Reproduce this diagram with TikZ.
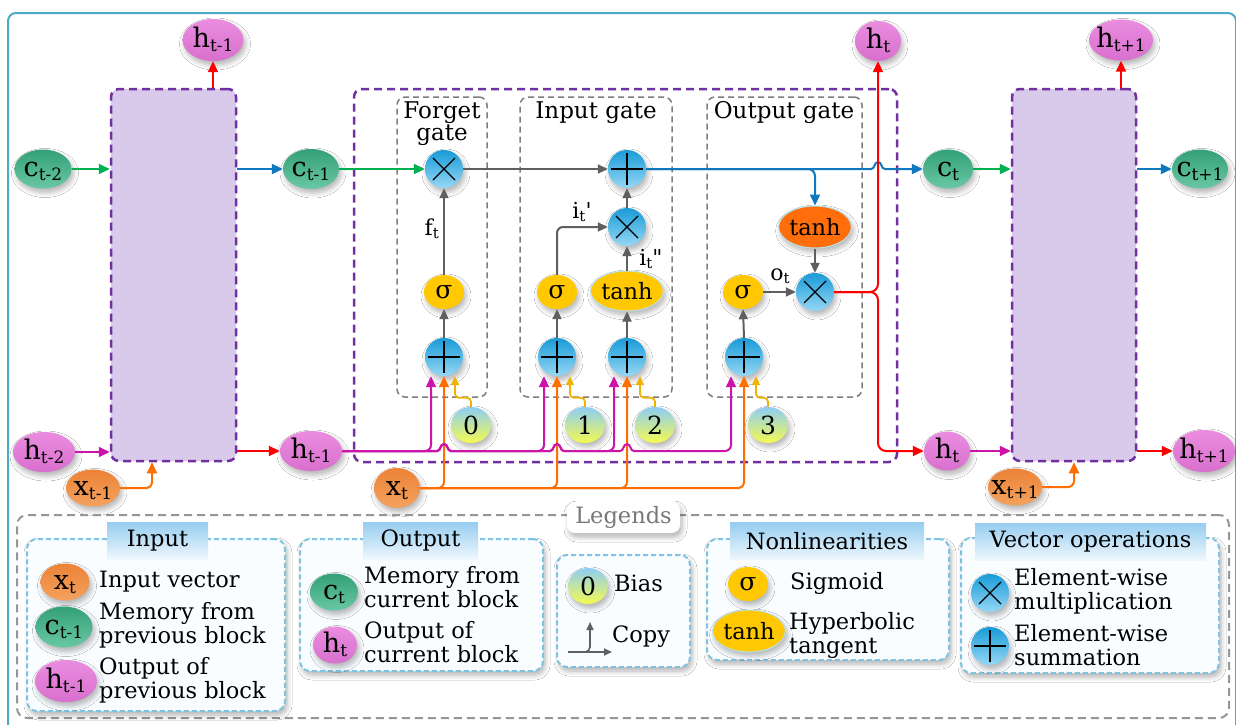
\documentclass[tikz,border=0pt]{standalone}
\usepackage{fontspec}
\setmainfont{DejaVu Serif}
\usetikzlibrary{arrows.meta,shapes.geometric,shadows.blur}

% palette
\definecolor{hTop}{RGB}{234,140,224}
\definecolor{hBot}{RGB}{216,112,206}
\definecolor{cTop}{RGB}{52,160,120}
\definecolor{cBot}{RGB}{105,200,165}
\definecolor{xTop}{RGB}{236,130,55}
\definecolor{xBot}{RGB}{244,162,95}
\definecolor{opTop}{RGB}{25,155,215}
\definecolor{opBot}{RGB}{150,215,245}
\definecolor{sigY}{RGB}{255,200,0}
\definecolor{tanhO}{RGB}{255,110,10}
\definecolor{biasT}{RGB}{140,205,245}
\definecolor{biasB}{RGB}{245,250,80}
\definecolor{purp}{RGB}{112,48,160}
\definecolor{lav}{RGB}{217,202,236}
\definecolor{gboxC}{RGB}{125,125,125}
\definecolor{lnGreen}{RGB}{0,176,80}
\definecolor{lnBlue}{RGB}{16,120,190}
\definecolor{lnRed}{RGB}{255,0,0}
\definecolor{lnMag}{RGB}{204,20,170}
\definecolor{lnOr}{RGB}{255,110,0}
\definecolor{lnGold}{RGB}{240,180,0}
\definecolor{lnGray}{RGB}{95,95,95}
\definecolor{frameC}{RGB}{75,170,198}
\definecolor{legBorder}{RGB}{125,195,225}
\definecolor{legFill}{RGB}{250,253,255}
\definecolor{titT}{RGB}{150,205,240}
\definecolor{titB}{RGB}{238,247,253}
\definecolor{legGray}{RGB}{150,150,150}
\definecolor{legText}{RGB}{120,120,120}
\definecolor{ringC}{RGB}{185,225,235}

% labels: letter with an upright subscript
\newcommand{\lab}[2]{{\fontsize{27}{28}\selectfont #1}\raisebox{-4pt}{\fontsize{17}{18}\selectfont #2}}
\newcommand{\slab}[2]{{\fontsize{22}{24}\selectfont #1}\raisebox{-3pt}{\fontsize{15}{16}\selectfont #2}}
\newcommand{\zb}[1]{\makebox[0pt]{#1}}
% a small bump where one wire jumps over another
\newcommand{\hopat}[2]{-- (#1-7,#2) .. controls (#1-3,#2) and (#1-4,#2-7) .. (#1,#2-7) .. controls (#1+4,#2-7) and (#1+3,#2) .. (#1+7,#2)}

\tikzset{
  shad/.style={blur shadow={shadow xshift=2pt,shadow yshift=-4pt,shadow blur radius=5pt,shadow opacity=30,shadow blur steps=6}},
  nbase/.style={inner sep=0pt, text=black, text height=16pt, text depth=2pt},
  ovl/.style={nbase, ellipse, shad},
  hnode/.style={ovl, top color=hTop, bottom color=hBot},
  cnode/.style={ovl, top color=cTop, bottom color=cBot},
  xnode/.style={ovl, top color=xTop, bottom color=xBot},
  opbase/.style={circle, minimum size=38pt, inner sep=0pt, top color=opTop, bottom color=opBot, shad},
  opmul/.style={opbase, path picture={\draw[line width=1.2pt] (path picture bounding box.center) ++(-11,-11) -- ++(22,22) ++(-22,0) -- ++(22,-22);}},
  opsum/.style={opbase, path picture={\draw[line width=1.2pt] (path picture bounding box.center) ++(-16,0) -- ++(32,0) ++(-16,-16) -- ++(0,32);}},
  signode/.style={ellipse, inner sep=0pt, minimum width=40pt, minimum height=34pt, fill=sigY, font=\fontsize{25}{26}\selectfont, shad},
  tanhy/.style={ellipse, inner sep=0pt, minimum width=66pt, minimum height=40pt, fill=sigY, draw=ringC, line width=1pt, font=\fontsize{22.5}{24}\selectfont, shad},
  tanho/.style={ellipse, inner sep=0pt, minimum width=64pt, minimum height=42pt, fill=tanhO, draw=ringC, line width=1pt, font=\fontsize{22.5}{24}\selectfont, shad},
  biasnode/.style={ellipse, inner sep=0pt, minimum width=40pt, minimum height=36pt, top color=biasT, bottom color=biasB, font=\fontsize{25}{26}\selectfont, shad},
  blockst/.style={rectangle, rounded corners=8pt, draw=purp, line width=2.5pt, dash pattern=on 8pt off 5pt, fill=lav, minimum width=125pt, minimum height=372pt},
  cellst/.style={rectangle, rounded corners=8pt, draw=purp, line width=2.5pt, dash pattern=on 8pt off 5pt, minimum width=543pt, minimum height=373pt},
  gatest/.style={rectangle, rounded corners=8pt, draw=gboxC, line width=1.5pt, dash pattern=on 6pt off 4pt, minimum height=300pt},
  gtitle/.style={align=center, font=\fontsize{23}{22}\selectfont},
  wire/.style={line width=2pt, -{Triangle[length=11pt,width=10pt]}},
  greenl/.style={wire, color=lnGreen},
  bluel/.style={wire, color=lnBlue},
  redl/.style={wire, color=lnRed},
  magl/.style={wire, color=lnMag},
  orl/.style={wire, color=lnOr},
  goldl/.style={line width=1.8pt, color=lnGold, -{Triangle[length=9pt,width=8pt]}},
  grayl/.style={line width=2pt, color=lnGray, -{Triangle[length=10pt,width=9pt]}},
  cpl/.style={line width=1.6pt, color=lnGray, -{Triangle[length=8pt,width=7pt]}},
  tlabel/.style={inner sep=0pt, font=\fontsize{22}{24}\selectfont},
  legbox/.style={rectangle, rounded corners=10pt, draw=legBorder, line width=2pt, dash pattern=on 5pt off 3pt, fill=legFill, shad},
  legtitle/.style={rectangle, minimum height=37pt, top color=titT, bottom color=titB, font=\fontsize{22.5}{22}\selectfont},
  legtext/.style={anchor=west, align=left, inner sep=0pt, font=\fontsize{22.5}{24}\selectfont}
}

\begin{document}
\begin{tikzpicture}[x=1pt,y=-1pt]
\useasboundingbox (0,0) rectangle (1236,724);
\fill[white] (0,0) rectangle (1236,724);
\draw[frameC, line width=2pt, rounded corners=8pt] (8,13) rectangle (1236,760);

% ---------- containers ----------
\node[cellst] (cell) at (625.5,275.5) {};
\node[gatest, minimum width=90pt]  (fgate) at (442,247) {};
\node[gatest, minimum width=152pt] (igate) at (596,247) {};
\node[gatest, minimum width=155pt] (ogate) at (784.5,247) {};
\node[gtitle] (fgT) at (442,124) {Forget\\gate};
\node[gtitle] (igT) at (596,113) {Input gate};
\node[gtitle] (ogT) at (784,113) {Output gate};

\node[blockst] (lb) at (173.5,275) {};
\node[blockst, minimum width=124pt] (rb) at (1074,275) {};

% ---------- sequence nodes ----------
\node[hnode, minimum width=61pt, minimum height=42pt] (hTa) at (213,40) {\zb{\lab{h}{t-1}}};
\node[hnode, minimum width=46pt, minimum height=40pt] (hTb) at (878,41) {\zb{\lab{h}{t}}};
\node[hnode, minimum width=64pt, minimum height=41pt] (hTc) at (1121,40) {\zb{\lab{h}{t+1}}};

\node[cnode, minimum width=57pt, minimum height=39pt] (cA) at (43,169) {\zb{\lab{c}{t-2}}};
\node[cnode, minimum width=56pt, minimum height=40pt] (cB) at (311,169) {\zb{\lab{c}{t-1}}};
\node[cnode, minimum width=50pt, minimum height=39pt] (cC) at (948,169) {\zb{\lab{c}{t}}};
\node[cnode, minimum width=56pt, minimum height=39pt] (cD) at (1200,169) {\zb{\lab{c}{t+1}}};

\node[hnode, minimum width=62pt, minimum height=40pt] (hA) at (44,452) {\zb{\lab{h}{t-2}}};
\node[hnode, minimum width=62pt, minimum height=40pt] (hB) at (311,451) {\zb{\lab{h}{t-1}}};
\node[hnode, minimum width=46pt, minimum height=39pt] (hC) at (947,451) {\zb{\lab{h}{t}}};
\node[hnode, minimum width=62pt, minimum height=42pt] (hD) at (1204,451) {\zb{\lab{h}{t+1}}};

\node[xnode, minimum width=54pt, minimum height=37pt] (xA) at (93,488) {\zb{\lab{x}{t-1}}};
\node[xnode, minimum width=46pt, minimum height=40pt] (xB) at (397,488) {\zb{\lab{x}{t}}};
\node[xnode, minimum width=54pt, minimum height=37pt] (xC) at (1015,487) {\zb{\lab{x}{t+1}}};

% ---------- gate internals ----------
\node[opmul] (fx) at (444,169) {};
\node[signode] (fs) at (444,292) {σ};
\node[opsum] (fp) at (444,357) {};

\node[opsum] (ip) at (627,169) {};
\node[opmul] (ix) at (627,227) {};
\node[signode] (is) at (557,292) {σ};
\node[tanhy] (it) at (627,291) {tanh};
\node[opsum] (ipa) at (557,357) {};
\node[opsum] (ipb) at (627,357) {};

\node[tanho] (ot) at (815,227) {tanh};
\node[opmul] (ox) at (815,292) {};
\node[signode] (os) at (743,292) {σ};
\node[opsum] (op) at (744,357) {};

\node[biasnode] (b0) at (471,425) {0};
\node[biasnode] (b1) at (585,425) {1};
\node[biasnode] (b2) at (655,425) {2};
\node[biasnode] (b3) at (768,425) {3};

% ---------- wires: inputs x_t ----------
\draw[orl, rounded corners=6pt] (xB.east) -| (fp.south);
\draw[orl, rounded corners=6pt] (xB.east) -| (ipa.south);
\draw[orl, rounded corners=6pt] (xB.east) -| (ipb.south);
\draw[orl, rounded corners=6pt] (xB.east) -| (op.south);
\draw[orl, rounded corners=6pt] (xA.east) -| ([xshift=-21.5pt]lb.south);
\draw[orl, rounded corners=6pt] (xC.east) -| (rb.south);

% ---------- wires: previous output h_{t-1} ----------
\draw[magl, rounded corners=6pt] (hB.east) -| ([xshift=-13pt]fp.south);
\draw[magl] (hB.east) \hopat{444}{451} [rounded corners=6pt] -| ([xshift=-13pt]ipa.south);
\draw[magl] (hB.east) \hopat{444}{451} \hopat{557}{451} [rounded corners=6pt] -| ([xshift=-13pt]ipb.south);
\draw[magl] (hB.east) \hopat{444}{451} \hopat{557}{451} \hopat{627}{451} [rounded corners=6pt] -| ([xshift=-13pt]op.south);

% ---------- wires: biases ----------
\draw[goldl, rounded corners=4pt] (b0.north) -- ++(0,-9) -| ([xshift=11pt]fp.south);
\draw[goldl, rounded corners=4pt] (b1.north) -- ++(0,-9) -| ([xshift=13pt]ipa.south);
\draw[goldl, rounded corners=4pt] (b2.north) -- ++(0,-9) -| ([xshift=13pt]ipb.south);
\draw[goldl, rounded corners=4pt] (b3.north) -- ++(0,-9) -| ([xshift=12pt]op.south);

% ---------- wires: inside the gates ----------
\draw[grayl] (fp.north) -- (fs.south);
\draw[grayl] (fs.north) -- (fx.south);
\draw[grayl] (fx.east) -- (ip.west);
\draw[grayl] (ipa.north) -- (is.south);
\draw[grayl] (ipb.north) -- (it.south);
\draw[grayl, rounded corners=6pt] (is.north) |- (ix.west);
\draw[grayl] (it.north) -- (ix.south);
\draw[grayl] (ix.north) -- (ip.south);
\draw[grayl] (op.north) -- (os.south);
\draw[grayl] (os.east) -- (ox.west);
\draw[grayl] (ot.south) -- (ox.north);

\node[tlabel, anchor=east] (ftL) at (439,229) {\slab{f}{t}};
\node[tlabel] (itL) at (582,212) {\slab{i}{t}\textquotesingle};
\node[tlabel] (ittL) at (651,259) {\slab{i}{t}\textquotedbl};
\node[tlabel] (otL) at (780,276) {\slab{o}{t}};

% ---------- wires: cell state and outputs ----------
\draw[greenl] (cA.east) -- (cA -| lb.west);
\draw[bluel] (cB -| lb.east) -- (cB.west);
\draw[greenl] (cB.east) -- (fx.west);
\draw[bluel] (ip.east) \hopat{878}{169} -- (cC.west);
\draw[bluel, rounded corners=7pt] (ip.east) -| (ot.north);
\draw[greenl] (cC.east) -- (cC -| rb.west);
\draw[bluel] (cD -| rb.east) -- (cD.west);

\draw[redl, rounded corners=8pt] (ox.east) -| (hTb.south);
\draw[redl, rounded corners=8pt] (ox.east) -| (hTb |- hC) -- (hC.west);

\draw[magl] (hA.east) -- (hA -| lb.west);
\draw[redl] (hB -| lb.east) -- (hB.west);
\draw[magl] (hC.east) -- (hC -| rb.west);
\draw[redl] (hD -| rb.east) -- (hD.west);
\draw[redl] (hTa |- lb.north) -- (hTa.south);
\draw[redl] (hTc |- rb.north) -- (hTc.south);

% ---------- legend ----------
\node[rectangle, rounded corners=10pt, draw=legGray, line width=2pt, dash pattern=on 8pt off 5pt, minimum width=1212pt, minimum height=203pt] (leg) at (623,616.5) {};
\node[rectangle, rounded corners=8pt, fill=white, minimum width=113pt, minimum height=31pt, text=legText, font=\fontsize{22.5}{22}\selectfont, shad] (legT) at (623.5,517.5) {Legends};

\node[legbox, minimum width=258pt, minimum height=172pt] (lgIn) at (156,625) {};
\node[legbox, minimum width=243pt, minimum height=132pt] (lgOut) at (421.5,605) {};
\node[legbox, minimum width=133pt, minimum height=112pt] (lgBias) at (623.5,611) {};
\node[legbox, minimum width=242pt, minimum height=121pt] (lgNon) at (828,599.5) {};
\node[legbox, minimum width=258pt, minimum height=135pt] (lgVec) at (1090,605.5) {};

\node[legtitle, minimum width=101pt] (tIn) at (157.5,540.5) {Input};
\node[legtitle, minimum width=115pt] (tOut) at (420.5,540.5) {Output};
\node[legtitle, minimum width=194pt] (tNon) at (827,541) {Nonlinearities};
\node[legtitle, minimum width=231pt] (tVec) at (1090.5,541.5) {Vector operations};

\node[xnode, minimum width=49pt, minimum height=37pt] (lx) at (65,582) {\zb{\lab{x}{t}}};
\node[legtext] (lxT) at (99,582) {Input vector};
\node[cnode, minimum width=57pt, minimum height=41pt] (lc) at (64,627) {\zb{\lab{c}{t-1}}};
\node[legtext] (lcT) at (99,625) {Memory from\\previous block};
\node[hnode, minimum width=62pt, minimum height=42pt] (lh) at (66,681) {\zb{\lab{h}{t-1}}};
\node[legtext] (lhT) at (99,680) {Output of\\previous block};

\node[cnode, minimum width=48pt, minimum height=37pt] (lc2) at (334,592) {\zb{\lab{c}{t}}};
\node[legtext] (lc2T) at (364,587) {Memory from\\current block};
\node[hnode, minimum width=44pt, minimum height=37pt] (lh2) at (335,645) {\zb{\lab{h}{t}}};
\node[legtext] (lh2T) at (364,642) {Output of\\current block};

\node[biasnode] (lb0) at (588,586) {0};
\node[legtext] (lb0T) at (614,583) {Bias};
\coordinate (cpS) at (568,652);
\coordinate (cpE) at (612,652);
\coordinate (cpB) at (579,652);
\coordinate (cpU) at (590,622);
\draw[cpl] (cpS) -- (cpE);
\draw[cpl, rounded corners=5pt] (cpB) -| (cpU);
\node[legtext] (cpT) at (612,637) {Copy};

\node[signode] (ls) at (748,584) {σ};
\node[legtext] (lsT) at (790,583) {Sigmoid};
\node[tanhy, minimum width=62pt, minimum height=42pt] (lt) at (749,631) {tanh};
\node[legtext] (ltT) at (789,635) {Hyperbolic\\tangent};

\node[opmul] (lmx) at (990,593) {};
\node[legtext] (lmxT) at (1014,591) {Element-wise\\multiplication};
\node[opsum] (lpl) at (990,646) {};
\node[legtext] (lplT) at (1014,645) {Element-wise\\summation};
\end{tikzpicture}
\end{document}
